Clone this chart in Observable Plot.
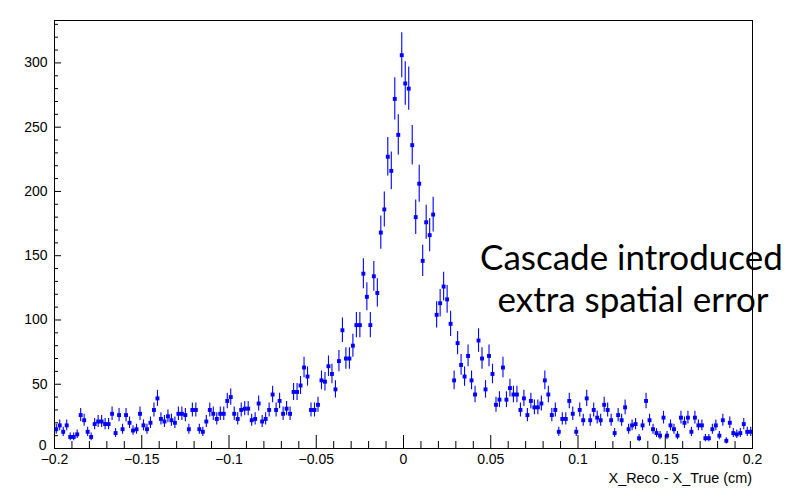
<!DOCTYPE html>
<html><head><meta charset="utf-8">
<script src="https://cdn.jsdelivr.net/npm/d3@7"></script>
<script src="https://cdn.jsdelivr.net/npm/@observablehq/plot@0.6"></script>
<style>
body{margin:0;background:#fff;}
#wrap{position:relative;width:788px;height:491px;overflow:hidden;}
#wrap svg{position:absolute;left:0;top:0;}
.note{position:absolute;font-family:Lato,"Open Sans",sans-serif;font-size:35px;line-height:42px;color:#000;white-space:nowrap;text-align:center;}
#xtitle{position:absolute;right:36px;top:470px;font-family:"Liberation Sans",Arial,sans-serif;font-size:14.4px;color:#000;white-space:nowrap;}
</style></head><body><div id="wrap"></div>
<script>
// Histogram: X_Reco - X_True (cm), 200 bins from -0.2 to 0.2 (counts)
const binLow = -0.2;
const binWidth = 0.002;
const counts = [
 15,18,13,18,9,9,11,26,22,13,9,19,21,21,19,19,27,12,26,15,26,20,14,15,
 27,18,15,20,30,39,23,21,25,22,20,27,27,26,15,30,30,15,13,21,30,27,23,27,27,37,40,27,
 23,30,31,31,22,23,35,21,23,30,42,30,37,27,31,27,44,44,49,63,56,30,30,34,53,
 52,64,58,46,68,92,70,70,80,96,96,136,118,96,134,121,168,186,227,216,272,244,306,284,280,236,
 180,206,146,176,166,182,104,113,126,116,97,53,82,65,56,72,53,42,84,70,46,72,58,34,38,63,38,47,
 42,42,30,39,26,37,32,32,35,53,42,26,30,13,23,23,37,27,13,30,22,39,22,30,24,22,34,30,22,12,
 26,22,32,15,18,19,8,18,37,22,15,12,10,24,10,18,15,10,24,20,24,13,24,18,18,8,8,15,18,10,
 22,6,20,12,11,12,19,13,13
];
const xMajorTicks = [-0.2,-0.15,-0.1,-0.05,0,0.05,0.1,0.15,0.2];
const xTickLabels = ["\u22120.2","\u22120.15","\u22120.1","\u22120.05","0","0.05","0.1","0.15","0.2"];
const xMinorTicks = [-0.19,-0.18,-0.17,-0.16,-0.14,-0.13,-0.12,-0.11,-0.09,-0.08,-0.07,-0.06,-0.04,-0.03,-0.02,-0.01,0.01,0.02,0.03,0.04,0.06,0.07,0.08,0.09,0.11,0.12,0.13,0.14,0.16,0.17,0.18,0.19];
const yMajorTicks = [50,100,150,200,250,300];
const yZeroTick = [0];
const yMinorTicks = [10,20,30,40,60,70,80,90,110,120,130,140,160,170,180,190,210,220,230,240,260,270,280,290,310,320,330];
const xTitle = "X_Reco - X_True (cm)";
const noteLines = ["Cascade introduced","extra spatial error"];

const data = counts.map((c,i)=>({x: binLow + (i+0.5)*binWidth, y: c, e: Math.sqrt(c)}));

const W = 788, H = 491, mL = 54, mR = 36, mT = 20, mB = 43;
const pw = W - mL - mR, ph = H - mT - mB;
const blue = "#0000ff";

const chart = Plot.plot({
  width: W, height: H,
  marginLeft: mL, marginRight: mR, marginTop: mT, marginBottom: mB,
  style: {fontFamily: "'Liberation Sans', Arial, sans-serif", fontSize: "14px", color: "#000", background: "#fff"},
  x: {domain: [-0.2, 0.2]},
  y: {domain: [0, 333]},
  marks: [
    Plot.ruleX(data, {x: "x", y1: d => d.y - d.e, y2: d => d.y + d.e, stroke: blue, strokeWidth: 1.1}),
    Plot.dot(data, {x: "x", y: "y", symbol: "square", r: 2.2, fill: blue, stroke: "none"}),
    Plot.ruleY([0, ...yMajorTicks], {y: d => d, insetRight: pw - 7, stroke: "#000", strokeWidth: 1}),
    Plot.ruleY(yMinorTicks, {y: d => d, insetRight: pw - 4, stroke: "#000", strokeWidth: 1}),
    Plot.ruleX(xMajorTicks, {x: d => d, insetTop: ph - 13, stroke: "#000", strokeWidth: 1}),
    Plot.ruleX(xMinorTicks, {x: d => d, insetTop: ph - 7, stroke: "#000", strokeWidth: 1}),
    Plot.axisY({ticks: yMajorTicks, tickSize: 0, tickPadding: 7, label: null, fontSize: 14}),
    Plot.axisY({ticks: yZeroTick, tickSize: 0, tickPadding: 8, label: null, fontSize: 14, dy: -3}),
    Plot.axisX({ticks: xMajorTicks, tickSize: 0, tickPadding: 6, label: null, fontSize: 14,
      tickFormat: d => xTickLabels[xMajorTicks.indexOf(d)]}),
    Plot.frame({stroke: "#000", strokeWidth: 1})
  ]
});
const wrap = document.getElementById("wrap");
wrap.appendChild(chart);

const t = document.createElement("div");
t.id = "xtitle"; t.textContent = xTitle; wrap.appendChild(t);

const n1 = document.createElement("div");
n1.className = "note"; n1.textContent = noteLines[0];
n1.style.left = "480px"; n1.style.top = "235px"; n1.style.width = "298px";
wrap.appendChild(n1);
const n2 = document.createElement("div");
n2.className = "note"; n2.textContent = noteLines[1];
n2.style.left = "488px"; n2.style.top = "277px"; n2.style.width = "290px";
wrap.appendChild(n2);
</script></body></html>
